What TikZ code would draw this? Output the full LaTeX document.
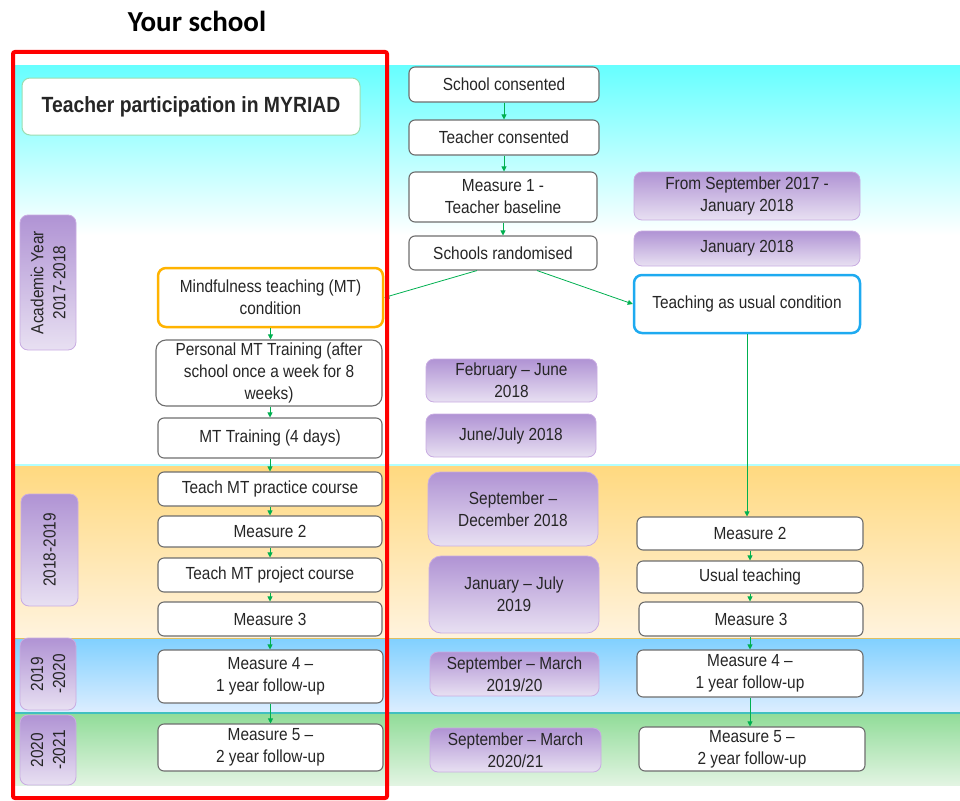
\documentclass[tikz,border=0pt]{standalone}
\usepackage{fontspec}
\setmainfont{Liberation Sans}[FakeStretch=0.88]
\newfontfamily\headfont{Carlito}
\usetikzlibrary{arrows.meta}
\definecolor{boxline}{HTML}{6E6E6E}
\definecolor{txt}{HTML}{262626}
\definecolor{arrowgreen}{HTML}{00B050}
\definecolor{purtop}{HTML}{B093D4}
\definecolor{purbot}{HTML}{E8E0F2}
\definecolor{purline}{HTML}{C9ACE2}
\definecolor{cyanband}{HTML}{66FFFF}
\definecolor{orangetop}{HTML}{FFD980}
\definecolor{orangebot}{HTML}{FFF3DE}
\definecolor{bluetop}{HTML}{80D0FF}
\definecolor{bluebot}{HTML}{DDEEFF}
\definecolor{greentop}{HTML}{90DC98}
\definecolor{greenbot}{HTML}{E2F4E2}
\definecolor{orangeedge}{HTML}{FFB300}
\definecolor{cyanedge}{HTML}{1EAAF0}
\definecolor{titleedge}{HTML}{9BDDB0}
\tikzset{
  stepbox/.style={draw=boxline, fill=white, rounded corners=6pt, line width=1.1pt,
    align=center, text=txt, inner sep=0pt, font=\fontsize{17.5}{22}\selectfont},
  datebox/.style={draw=purline, top color=purtop, bottom color=purbot, rounded corners=8pt,
    line width=0.8pt, align=center, text=txt, inner sep=0pt, font=\fontsize{17.5}{22}\selectfont},
  flow/.style={draw=arrowgreen, line width=0.8pt, -{Triangle[length=5pt,width=5pt]}},
}
\begin{document}
\begin{tikzpicture}[x=1pt,y=-1pt]
\useasboundingbox (0,0) rectangle (960,800);
% bands
\shade[top color=cyanband, bottom color=white] (13,65) rectangle (960,235);
\shade[top color=orangetop, bottom color=orangebot] (13,466) rectangle (960,638);
\shade[top color=bluetop, bottom color=bluebot] (13,638) rectangle (960,713);
\shade[top color=greentop, bottom color=greenbot] (13,713) rectangle (960,785);
\draw[color=cyanband!50, line width=2pt] (13,465) -- (960,465);
\draw[color={rgb,255:red,224;green,192;blue,96}, line width=1pt] (13,638) -- (960,638);
\draw[color={rgb,255:red,64;green,192;blue,192}, line width=1.5pt] (13,713) -- (960,713);

% heading
\node[font=\headfont\bfseries\fontsize{29}{32}\selectfont] (head) at (197,21) {Your school};
\node[draw=titleedge, fill=white, rounded corners=8pt, line width=1pt, minimum width=338, minimum height=57,
  inner sep=0pt, text=txt, font=\bfseries\fontsize{22}{24}\selectfont] (title) at (191,106.5) {Teacher participation in MYRIAD};

% centre column
\node[stepbox, minimum width=190, minimum height=35] (sc) at (504,84.5) {School consented};
\node[stepbox, minimum width=190, minimum height=35] (tc) at (504,137.5) {Teacher consented};
\node[stepbox, minimum width=188, minimum height=50] (m1) at (503,197) {Measure 1 -\\Teacher baseline};
\node[stepbox, minimum width=188, minimum height=34] (sr) at (503,253) {Schools randomised};

% right dates / condition
\node[datebox, minimum width=226, minimum height=48] (d1) at (747,196) {From September 2017 -\\January 2018};
\node[datebox, minimum width=226, minimum height=35] (d2) at (747,248.5) {January 2018};
\node[stepbox, draw=cyanedge, line width=2.5pt, rounded corners=8pt, minimum width=226, minimum height=58] (tau) at (747,304) {Teaching as usual condition};

% year labels
\node[datebox, rotate=90, minimum width=135, minimum height=56] (y1) at (48,282.5) {Academic Year\\2017-2018};
\node[datebox, rotate=90, minimum width=112, minimum height=57] (y2) at (49.5,550) {2018-2019};
\node[datebox, rotate=90, minimum width=72, minimum height=56] (y3) at (48,674) {2019\\-2020};
\node[datebox, rotate=90, minimum width=70, minimum height=56] (y4) at (48,750) {2020\\-2021};

% left column
\node[stepbox, draw=orangeedge, line width=2.5pt, rounded corners=8pt, minimum width=225, minimum height=59] (mtc) at (270.5,297.5) {Mindfulness teaching (MT)\\condition};
\node[stepbox, rounded corners=10pt, minimum width=226, minimum height=66] (pmt) at (269,373) {Personal MT Training (after\\school once a week for 8\\weeks)};
\node[stepbox, minimum width=224, minimum height=40] (mtt) at (270,438) {MT Training (4 days)};
\node[stepbox, minimum width=224, minimum height=34] (tpc) at (270,489) {Teach MT practice course};
\node[stepbox, minimum width=224, minimum height=31] (lm2) at (270,531.5) {Measure 2};
\node[stepbox, minimum width=224, minimum height=34] (tpj) at (270,575) {Teach MT project course};
\node[stepbox, minimum width=224, minimum height=34] (lm3) at (270,619) {Measure 3};
\node[stepbox, minimum width=225, minimum height=53] (lm4) at (270.5,676.5) {Measure 4 --\\1 year follow-up};
\node[stepbox, minimum width=225, minimum height=47] (lm5) at (270.5,747.5) {Measure 5 --\\2 year follow-up};

% middle dates
\node[datebox, minimum width=171, minimum height=43] (p1) at (511.5,380.5) {February -- June\\2018};
\node[datebox, minimum width=170, minimum height=43] (p2) at (511,435.5) {June/July 2018};
\node[datebox, rounded corners=12pt, minimum width=170, minimum height=74] (p3) at (513,509) {September --\\December 2018};
\node[datebox, rounded corners=12pt, minimum width=170, minimum height=77] (p4) at (514,594.5) {January -- July\\2019};
\node[datebox, minimum width=169, minimum height=44] (p5) at (514.5,674) {September -- March\\2019/20};
\node[datebox, minimum width=171, minimum height=44] (p6) at (515.5,750) {September -- March\\2020/21};

% right column
\node[stepbox, minimum width=226, minimum height=33] (rm2) at (750,533.5) {Measure 2};
\node[stepbox, minimum width=226, minimum height=32] (rut) at (750,577) {Usual teaching};
\node[stepbox, minimum width=224, minimum height=34] (rm3) at (751,619) {Measure 3};
\node[stepbox, minimum width=226, minimum height=47] (rm4) at (750,673.5) {Measure 4 --\\1 year follow-up};
\node[stepbox, minimum width=226, minimum height=44] (rm5) at (752,749) {Measure 5 --\\2 year follow-up};

% arrows centre
\draw[flow] (sc.south) -- (sc.south |- tc.north);
\draw[flow] (tc.south) -- (tc.south |- m1.north);
\draw[flow] (m1.south) -- (m1.south |- sr.north);
\draw[flow] ([xshift=-26pt]sr.south) -- (mtc.east);
\draw[flow] ([xshift=34pt]sr.south) -- (tau.west);
% arrows left
\draw[flow] (mtc.south) -- (mtc.south |- pmt.north);
\draw[flow] (mtt.north |- pmt.south) -- (mtt.north);
\draw[flow] (mtt.south) -- (mtt.south |- tpc.north);
\draw[flow] (tpc.south) -- (tpc.south |- lm2.north);
\draw[flow] (lm2.south) -- (lm2.south |- tpj.north);
\draw[flow] (tpj.south) -- (tpj.south |- lm3.north);
\draw[flow] (lm3.south) -- (lm3.south |- lm4.north);
\draw[flow] (lm4.south) -- (lm4.south |- lm5.north);
% arrows right
\draw[flow] (tau.south) -- (tau.south |- rm2.north);
\draw[flow] (rm2.south) -- (rm2.south |- rut.north);
\draw[flow] (rut.south) -- (rut.south |- rm3.north);
\draw[flow] (rm4.north |- rm3.south) -- (rm4.north);
\draw[flow] (rm4.south) -- (rm4.south |- rm5.north);

% red frame
\draw[red, line width=4pt, rounded corners=2pt] (13,52) rectangle (387,798);
\end{tikzpicture}
\end{document}
